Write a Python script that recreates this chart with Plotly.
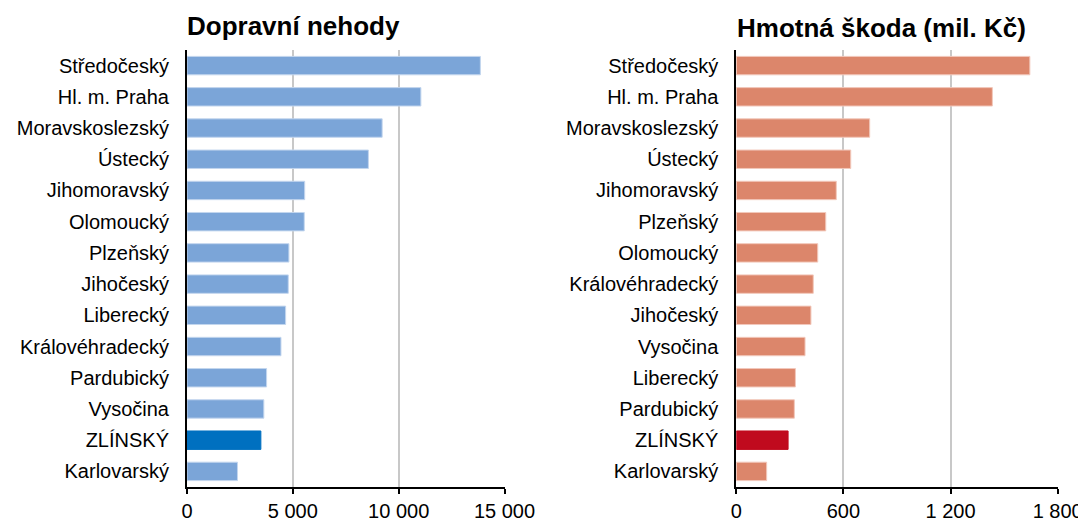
import plotly.graph_objects as go
from plotly.subplots import make_subplots

# Left chart: traffic accidents
acc_regions = ["Středočeský", "Hl. m. Praha", "Moravskoslezský", "Ústecký", "Jihomoravský",
               "Olomoucký", "Plzeňský", "Jihočeský", "Liberecký", "Královéhradecký",
               "Pardubický", "Vysočina", "ZLÍNSKÝ", "Karlovarský"]
acc_values = [13860, 11050, 9220, 8570, 5560, 5540, 4815, 4785, 4660, 4440, 3760, 3630, 3490, 2385]

# Right chart: material damage (mil. Kč)
dmg_regions = ["Středočeský", "Hl. m. Praha", "Moravskoslezský", "Ústecký", "Jihomoravský",
               "Plzeňský", "Olomoucký", "Královéhradecký", "Jihočeský", "Vysočina",
               "Liberecký", "Pardubický", "ZLÍNSKÝ", "Karlovarský"]
dmg_values = [1644, 1434, 747, 641, 560, 501, 456, 431, 418, 385, 331, 325, 290, 170]

acc_ticks = [0, 5000, 10000, 15000]
acc_ticktext = ["0", "5 000", "10 000", "15 000"]
dmg_ticks = [0, 600, 1200, 1800]
dmg_ticktext = ["0", "600", "1 200", "1 800"]

highlight = "ZLÍNSKÝ"
FONT = "Liberation Sans, Arial, sans-serif"

acc_colors = ["#0070C0" if r == highlight else "#7BA5D8" for r in acc_regions]
acc_lines = ["#0070C0" if r == highlight else "#C3D6EE" for r in acc_regions]
dmg_colors = ["#C00A1E" if r == highlight else "#DC866B" for r in dmg_regions]
dmg_lines = ["#C00A1E" if r == highlight else "#F2C8BB" for r in dmg_regions]

fig = make_subplots(rows=1, cols=2)

fig.add_trace(go.Bar(x=acc_values, y=acc_regions, orientation="h",
                     marker=dict(color=acc_colors, line=dict(color=acc_lines, width=1)),
                     width=0.59, showlegend=False), row=1, col=1)
fig.add_trace(go.Bar(x=dmg_values, y=dmg_regions, orientation="h",
                     marker=dict(color=dmg_colors, line=dict(color=dmg_lines, width=1)),
                     width=0.59, showlegend=False), row=1, col=2)

# page has an 8px body margin; figure coords = page coords - 8
OFF = 8
W, H = 1086, 522


def px(x):
    return (x - OFF) / W


def py(y):
    return 1 - (y - OFF) / H


common_x = dict(showgrid=True, gridcolor="#C8C8C8", gridwidth=1.5, zeroline=False,
                showline=True, linecolor="black", linewidth=1.5, automargin=False,
                ticks="outside", ticklen=5, tickcolor="black", tickwidth=1.5,
                tickfont=dict(family=FONT, size=20, color="black"))
common_y = dict(autorange="reversed", showline=True, linecolor="black", linewidth=2,
                ticks="", showgrid=False, ticklabelstandoff=12, automargin=False,
                tickfont=dict(family=FONT, size=20, color="black"))

fig.update_xaxes(domain=[px(187), px(504.5)], range=[0, 15000], tickvals=acc_ticks,
                 ticktext=acc_ticktext, row=1, col=1, **common_x)
fig.update_xaxes(domain=[px(736.3), px(1057.7)], range=[0, 1800], tickvals=dmg_ticks,
                 ticktext=dmg_ticktext, row=1, col=2, **common_x)
fig.update_yaxes(domain=[py(487), py(50)], row=1, col=1, **common_y)
fig.update_yaxes(domain=[py(487), py(50)], row=1, col=2, **common_y)

fig.add_annotation(text="<b>Dopravní nehody</b>", xref="paper", yref="paper",
                   x=px(185), y=py(43), xanchor="left", yanchor="bottom", showarrow=False,
                   font=dict(family=FONT, size=26, color="black"))
fig.add_annotation(text="<b>Hmotná škoda (mil. Kč)</b>", xref="paper", yref="paper",
                   x=px(735), y=py(45), xanchor="left", yanchor="bottom", showarrow=False,
                   font=dict(family=FONT, size=26, color="black"))

fig.update_layout(width=W, height=H, margin=dict(l=0, r=0, t=0, b=0),
                  plot_bgcolor="white", paper_bgcolor="white", bargap=0.41,
                  font=dict(family=FONT, color="black"))

fig.write_html("out.html")
